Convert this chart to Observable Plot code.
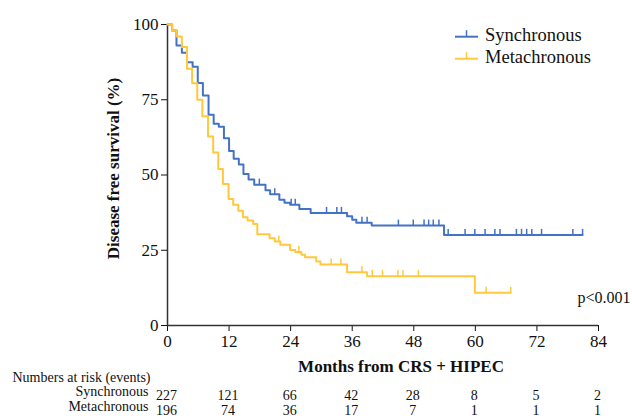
<!DOCTYPE html>
<html><head><meta charset="utf-8">
<script src="https://cdn.jsdelivr.net/npm/d3@7"></script>
<script src="https://cdn.jsdelivr.net/npm/@observablehq/plot@0.6"></script>
<style>
html,body{margin:0;padding:0;background:#fff}
svg, svg text{font-family:"Liberation Serif","Times New Roman",serif !important}
</style>
</head><body><div id="chart"></div>
<script>
const groups = ["Synchronous", "Metachronous"];
const colors = ["#4472C4", "#FFC83D"];

// Kaplan-Meier step points (months, % disease free)
const syncTimes = [0, 0.9, 1.75, 2.8, 3.8, 4.9, 5.9, 6.9, 8.0, 9.0, 10.0, 11.0, 12.0, 12.9, 13.9, 14.8, 15.8, 16.9, 19.1, 20.0, 21.8, 22.8, 23.9, 25.7, 27.9, 35.0, 36.0, 36.8, 39.8, 53.9, 80.9];
const syncSurv  = [100, 98, 93, 90.6, 87.5, 86, 80.6, 76.4, 70, 67, 66, 62.2, 58, 55.4, 53.5, 50.3, 48.5, 46.8, 44.9, 43.6, 41.8, 40.8, 40.1, 38.7, 37.4, 36.3, 35.1, 34.1, 33.2, 30.1, 30.1];
const syncCensor = [17.9, 20.9, 24.1, 24.9, 31.0, 33.0, 33.9, 37.9, 38.9, 45.0, 47.9, 50.0, 50.9, 51.8, 52.9, 54.7, 58.0, 59.9, 61.9, 63.8, 64.8, 68.0, 69.0, 70.0, 71.0, 72.9, 79.0, 80.9];

const metaTimes = [0, 0.9, 1.75, 2.8, 3.8, 4.8, 5.8, 6.8, 7.9, 8.9, 9.9, 10.8, 11.9, 12.8, 13.8, 14.7, 15.6, 16.7, 17.5, 19.9, 20.9, 22.0, 23.9, 24.9, 26.1, 26.8, 29.0, 29.8, 35.0, 38.9, 59.9, 66.9];
const metaSurv  = [100, 98, 96, 92.5, 85.3, 80.5, 75, 69.5, 62.8, 57.5, 52, 47, 42, 40.1, 38.1, 36, 34.9, 33.7, 30.3, 29, 27.9, 26.8, 25.1, 24.4, 23.5, 22.7, 21.3, 20.3, 17.7, 16.4, 10.9, 10.9];
const metaCensor = [21.7, 25.6, 31.9, 33.8, 37.9, 39.9, 41.9, 44.9, 45.9, 48.9, 62.1, 66.9];

const xTicks = [0, 12, 24, 36, 48, 60, 72, 84];
const yTicks = [0, 25, 50, 75, 100];
const riskSync = [227, 121, 66, 42, 28, 8, 5, 2];
const riskMeta = [196, 74, 36, 17, 7, 1, 1, 1];
const xLabel = "Months from CRS + HIPEC";
const yLabel = "Disease free survival (%)";
const riskTitle = "Numbers at risk (events)";
const pText = "p<0.001";

function stepRows(times, surv, group) {
  return times.map((t, i) => ({t, s: surv[i], group}));
}
function levelAt(times, surv, t) {
  let s = surv[0];
  for (let i = 0; i < times.length; i++) if (times[i] <= t) s = surv[i];
  return s;
}
const lines = [
  ...stepRows(syncTimes, syncSurv, groups[0]),
  ...stepRows(metaTimes, metaSurv, groups[1])
];
const censors = [
  ...syncCensor.map(t => ({t, s: levelAt(syncTimes, syncSurv, t), group: groups[0]})),
  ...metaCensor.map(t => ({t, s: levelAt(metaTimes, metaSurv, t), group: groups[1]}))
];
const risk1 = xTicks.map((t, i) => ({t, n: riskSync[i]}));
const risk2 = xTicks.map((t, i) => ({t, n: riskMeta[i]}));

const axisColor = "#333";
const plot = Plot.plot({
  width: 632, height: 419,
  marginLeft: 167, marginRight: 34, marginTop: 24, marginBottom: 94,
  style: {fontSize: "17px", color: "#111", background: "#fff", overflow: "visible"},
  x: {domain: [0, 84], ticks: xTicks, tickSize: 6, tickPadding: 3, label: null},
  y: {domain: [0, 100], ticks: yTicks, tickSize: 6, tickPadding: 3, label: null},
  color: {domain: groups, range: colors},
  marks: [
    Plot.ruleX([0], {stroke: axisColor, strokeWidth: 1.5}),
    Plot.ruleY([0], {stroke: axisColor, strokeWidth: 1.5}),
    Plot.line(lines, {x: "t", y: "s", z: "group", stroke: "group", curve: "step-after", strokeWidth: 2}),
    Plot.link(censors, {x1: "t", x2: "t", y1: "s", y2: d => d.s + 2, stroke: "group", strokeWidth: 1.5}),
    Plot.text(risk1, {x: "t", y: () => 0, text: "n", dy: 70, fontSize: 14, fill: "#111", dx: -1}),
    Plot.text(risk2, {x: "t", y: () => 0, text: "n", dy: 85.5, fontSize: 14, fill: "#111", dx: -1}),
    Plot.text([riskTitle], {frameAnchor: "bottom-left", text: d => d, textAnchor: "start", dx: -155, dy: 56.5, fontSize: 14, fill: "#111"}),
    Plot.text([groups[0]], {frameAnchor: "bottom-left", text: d => d, textAnchor: "end", dx: -19, dy: 70, fontSize: 14, fill: "#111"}),
    Plot.text([groups[1]], {frameAnchor: "bottom-left", text: d => d, textAnchor: "end", dx: -19, dy: 85.5, fontSize: 14, fill: "#111"}),
    Plot.text([xLabel], {frameAnchor: "bottom", text: d => d, dx: 18, dy: 46, fontSize: 17, fontWeight: "bold", fill: "#111"}),
    Plot.text([yLabel], {frameAnchor: "left", text: d => d, textAnchor: "middle", rotate: -90, dx: -54, dy: -6.5, fontSize: 17, fontWeight: "bold", fill: "#111"}),
    Plot.text([pText], {frameAnchor: "bottom-right", text: d => d, textAnchor: "end", dx: 32, dy: -23, fontSize: 16, fill: "#111"})
  ]
});
document.getElementById("chart").appendChild(plot);

// legend
const svg = d3.select(plot);
const lg = svg.append("g");
groups.forEach((g, i) => {
  const y = 36.7 + i * 22;
  lg.append("line").attr("x1", 455).attr("x2", 478).attr("y1", y).attr("y2", y)
    .attr("stroke", colors[i]).attr("stroke-width", 2);
  lg.append("line").attr("x1", 466.5).attr("x2", 466.5).attr("y1", y - 6.5).attr("y2", y)
    .attr("stroke", colors[i]).attr("stroke-width", 1.5);
  lg.append("text").attr("x", 485).attr("y", y + 4).attr("font-size", 18.5)
    .attr("text-anchor", "start").attr("fill", "#111").text(g);
});
</script>
</body></html>
